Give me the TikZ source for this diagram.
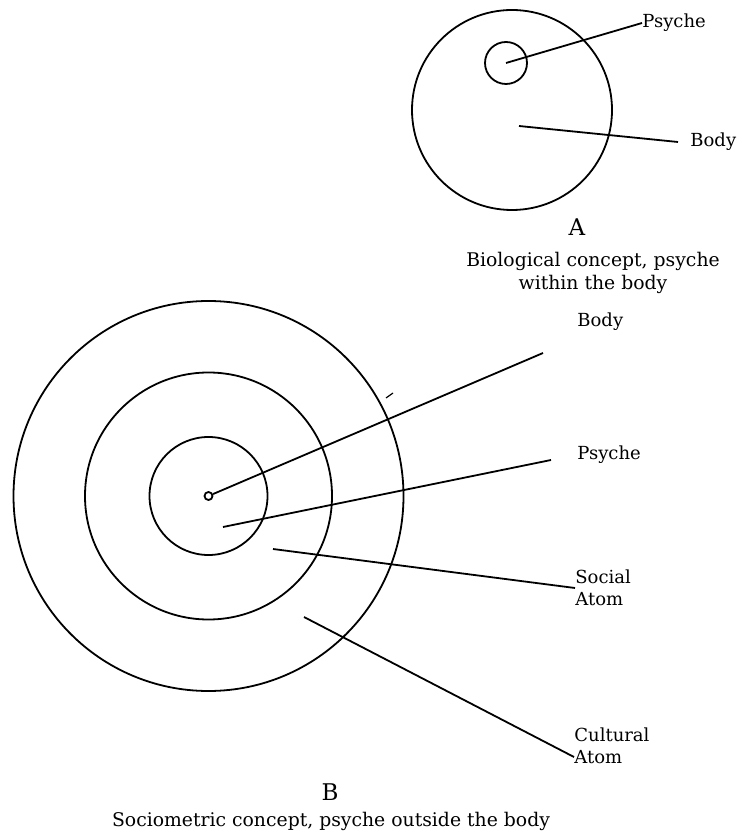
\documentclass[tikz,border=0pt]{standalone}
\usepackage{fontspec}
\setmainfont{DejaVu Serif}
\begin{document}
\begin{tikzpicture}[
  x=0.5pt, y=-0.5pt,
  ring/.style={draw, circle, line width=0.9pt, inner sep=0pt},
  lead/.style={line width=0.9pt},
  lbl/.style={anchor=west, inner sep=0pt, align=left,
    font=\fontsize{9}{11}\selectfont},
  caption/.style={inner sep=0pt, align=center,
    font=\fontsize{9.4}{11.5}\selectfont}
]
\useasboundingbox (0,0) rectangle (741,838);

% A: biological concept
\node[ring, minimum size=100pt] (bodyA) at (512,110) {};
\node[ring, minimum size=21pt] (psycheA) at (506,63) {};
\node[lbl] (psycheAlbl) at (642,23) {Psyche};
\node[lbl] (bodyAlbl) at (690,142) {Body};
\coordinate (bodyAin) at (519,126);
\draw[lead] (psycheA.center) -- (psycheAlbl.west);
\draw[lead] (bodyAin) -- ([xshift=-6pt]bodyAlbl.west);
\node[caption, font=\fontsize{11.5}{13}\selectfont] (capA) at (577,227) {A};
\node[caption] (capAtext) at (593,273) {Biological concept, psyche\\within the body};

% B: sociometric concept
\node[ring, minimum size=195pt] (cultB) at (208.5,496) {};
\node[ring, minimum size=123.5pt] (socB) at (208.5,496) {};
\node[ring, minimum size=59pt] (psycheB) at (208.5,496) {};
\node[ring, minimum size=4pt] (bodyB) at (208.5,496) {};

\node[lbl] (bodyBlbl) at (577,322) {Body};
\node[lbl] (psycheBlbl) at (577,455) {Psyche};
\node[lbl] (socBlbl) at (575,588) {Social\\Atom};
\node[lbl] (cultBlbl) at (574,746) {Cultural\\Atom};

\coordinate (bodyBend) at (543,353);
\coordinate (psycheBin) at (223,527);
\coordinate (psycheBend) at (551,460);
\coordinate (socBin) at (273,549);
\coordinate (cultBin) at (304,617);
\coordinate (tickA) at (386,398);
\coordinate (tickB) at (393,393);

\draw[lead] (bodyB) -- (bodyBend);
\draw[lead] (psycheBin) -- (psycheBend);
\draw[lead] (socBin) -- (socBlbl.west);
\draw[lead] (cultBin) -- ([yshift=-5.5pt]cultBlbl.west);
\draw[line width=0.6pt] (tickA) -- (tickB);

\node[caption, font=\fontsize{11.5}{13}\selectfont] (capB) at (330,792) {B};
\node[caption] (capBtext) at (331,821) {Sociometric concept, psyche outside the body};
\end{tikzpicture}
\end{document}
